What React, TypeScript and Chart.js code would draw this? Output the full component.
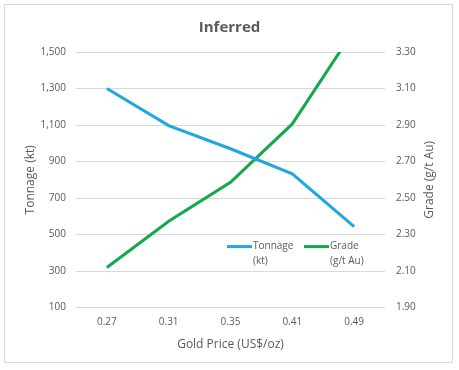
import React, { useEffect, useRef } from "react";
import { Chart, registerables } from "chart.js";

Chart.register(...registerables);

const categories = ["0.27", "0.31", "0.35", "0.41", "0.49"];
const tonnage = [1300, 1097, 970, 833, 544];
const grade = [2.12, 2.373, 2.586, 2.906, 3.42];
const legendLabels = [
  ["Tonnage", "(kt)"],
  ["Grade", "(g/t Au)"],
];
const rightAxisTitle = "Grade (g/t Au)";

const FONT = "'Open Sans', 'Noto Sans', sans-serif";
const BLUE = "#1FA8E0";
const GREEN = "#13A84B";
const GRAY = "#595959";

const legendPlugin = {
  id: "customLegend",
  afterDraw(chart: any) {
    const { ctx, chartArea } = chart;
    const colors = [BLUE, GREEN];
    const baseX = chartArea.left + 151;
    const y = chartArea.bottom - 61;
    ctx.save();
    ctx.font = `10px ${FONT}`;
    ctx.fillStyle = GRAY;
    ctx.textBaseline = "middle";
    ctx.textAlign = "left";
    legendLabels.forEach((lines, i) => {
      const x = baseX + i * 77;
      ctx.strokeStyle = colors[i];
      ctx.lineWidth = 3;
      ctx.beginPath();
      ctx.moveTo(x, y);
      ctx.lineTo(x + 25, y);
      ctx.stroke();
      lines.forEach((t, j) => ctx.fillText(t, x + 26, y + j * 15));
    });
    // right axis title, reading bottom to top
    const cy = (chartArea.top + chartArea.bottom) / 2;
    ctx.translate(chartArea.right + 45, cy);
    ctx.rotate(-Math.PI / 2);
    ctx.font = `12px ${FONT}`;
    ctx.textAlign = "center";
    ctx.fillText(rightAxisTitle, 0, 0);
    ctx.restore();
  },
};

export default function App() {
  const ref = useRef<HTMLCanvasElement>(null);
  useEffect(() => {
    if (!ref.current) return;
    const chart = new Chart(ref.current, {
      type: "line",
      data: {
        labels: categories,
        datasets: [
          {
            label: "Tonnage (kt)",
            data: tonnage,
            borderColor: BLUE,
            backgroundColor: BLUE,
            borderWidth: 3,
            pointRadius: 0,
            yAxisID: "y",
            clip: 0,
          },
          {
            label: "Grade (g/t Au)",
            data: grade,
            borderColor: GREEN,
            backgroundColor: GREEN,
            borderWidth: 3,
            pointRadius: 0,
            yAxisID: "y1",
            clip: 0,
          },
        ],
      },
      options: {
        responsive: false,
        animation: false,
        layout: { padding: { left: 4, right: 4, top: 4, bottom: 18 } },
        plugins: {
          legend: { display: false },
          tooltip: { enabled: false },
          title: {
            display: true,
            text: "Inferred",
            color: GRAY,
            font: { family: FONT, size: 15, weight: "bold" },
            padding: { top: 15, bottom: 15 },
          },
        },
        scales: {
          x: {
            offset: true,
            grid: { display: false, drawTicks: false },
            border: { display: false },
            ticks: { color: GRAY, font: { family: FONT, size: 10 }, padding: 9, maxRotation: 0 },
            title: {
              display: true,
              text: "Gold Price (US$/oz)",
              color: GRAY,
              font: { family: FONT, size: 12 },
              padding: { top: 0, bottom: 0 },
            },
          },
          y: {
            position: "left",
            min: 100,
            max: 1500,
            afterFit: (s: any) => {
              s.width = 72;
            },
            grid: { color: "#D9D9D9", drawTicks: false, lineWidth: 1 },
            border: { display: false },
            ticks: {
              stepSize: 200,
              color: GRAY,
              font: { family: FONT, size: 10 },
              padding: 10,
              callback: (v: any) => Number(v).toLocaleString("en-US"),
            },
            title: {
              display: true,
              text: "Tonnage (kt)",
              color: GRAY,
              font: { family: FONT, size: 12 },
              padding: { top: 19, bottom: 0 },
            },
          },
          y1: {
            position: "right",
            min: 1.9,
            max: 3.3,
            afterFit: (s: any) => {
              s.width = 70;
            },
            grid: { display: false, drawTicks: false },
            border: { display: false },
            ticks: {
              stepSize: 0.2,
              color: GRAY,
              font: { family: FONT, size: 10 },
              padding: 11,
              callback: (v: any) => Number(v).toFixed(2),
            },
          },
        },
      },
      plugins: [legendPlugin],
    } as any);
    return () => chart.destroy();
  }, []);

  return (
    <div style={{ position: "fixed", left: 0, top: 0, width: 459, height: 370, background: "#fff" }}>
      <div
        style={{
          position: "absolute",
          left: 4,
          top: 4,
          width: 447,
          height: 357,
          border: "1px solid #D9D9D9",
          boxSizing: "content-box",
        }}
      />
      <canvas ref={ref} width={459} height={370} style={{ position: "absolute", left: 0, top: 0, display: "block" }} />
    </div>
  );
}
